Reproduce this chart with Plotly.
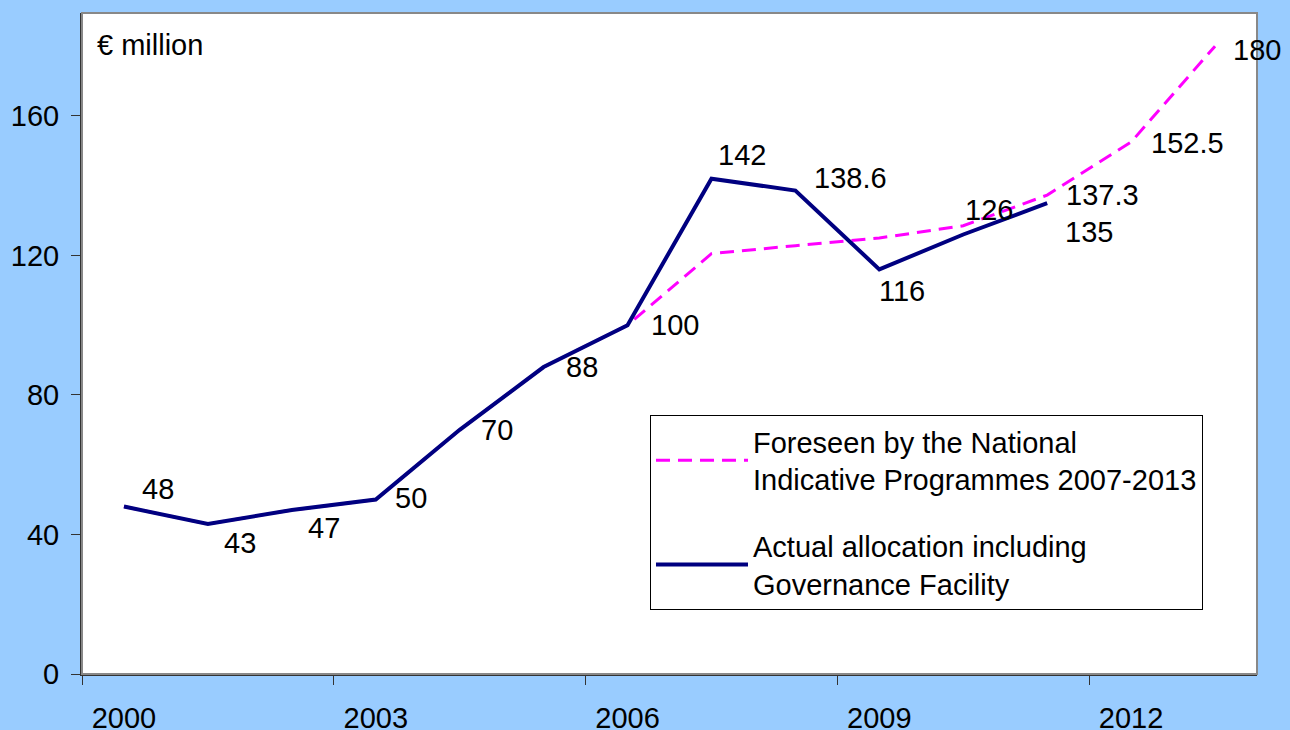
import plotly.graph_objects as go

# ---- data ----
years = [2000.5, 2001.5, 2002.5, 2003.5, 2004.5, 2005.5, 2006.5,
         2007.5, 2008.5, 2009.5, 2010.5, 2011.5, 2012.5, 2013.5]
foreseen = [48, 43, 47, 50, 70, 88, 100, 120.5, 122.8, 125, 128.5, 137.3, 152.5, 180]
actual_years = years[:12]
actual = [48, 43, 47, 50, 70, 88, 100, 142, 138.6, 116, 126, 135]

foreseen_name = "Foreseen by the National<br>Indicative Programmes 2007-2013"
actual_name = "Actual allocation including<br>Governance Facility"

x_tick_years = [2000, 2003, 2006, 2009, 2012]
y_ticks = [0, 40, 80, 120, 160]

# labelled points and pixel offsets (style only)
actual_label_offsets = [(34, -18), (32, 19), (32, 18), (35, -2), (37, 0), (38, 0), (47, 0),
                        (31, -24), (55, -13), (23, 22), (26, -25), (42, 29)]
foreseen_label_idx = [11, 12, 13]
foreseen_label_offsets = [(55, 0), (56, 1), (42, 4)]

FONT = "Liberation Sans, Arial, sans-serif"
FS = 29

fig = go.Figure()
fig.add_trace(go.Scatter(
    x=years, y=foreseen, mode="lines", name=foreseen_name, legendgroup="f",
    line=dict(color="#FF00FF", width=3, dash="14px,8px"),
))
fig.add_trace(go.Scatter(
    x=actual_years, y=actual, mode="lines", name=actual_name, legendgroup="a",
    line=dict(color="#000080", width=4),
))

def fmt(v):
    return f"{v:g}"

annotations = []
for (xv, yv), (dx, dy) in zip(zip(actual_years, actual), actual_label_offsets):
    annotations.append(dict(x=xv, y=yv, xref="x", yref="y", text=fmt(yv), showarrow=False,
                            xshift=dx, yshift=-dy, font=dict(size=FS, color="black", family=FONT)))
for i, (dx, dy) in zip(foreseen_label_idx, foreseen_label_offsets):
    annotations.append(dict(x=years[i], y=foreseen[i], xref="x", yref="y", text=fmt(foreseen[i]),
                            showarrow=False, xshift=dx, yshift=-dy,
                            font=dict(size=FS, color="black", family=FONT)))
annotations.append(dict(x=0.011, y=0.952, xref="paper", yref="paper", text="€ million",
                        showarrow=False, xanchor="left", yanchor="middle",
                        font=dict(size=FS, color="black", family=FONT)))

fig.update_layout(
    width=1290, height=730,
    margin=dict(l=82, r=33, t=13, b=56, autoexpand=False),
    paper_bgcolor="#99CCFF",
    plot_bgcolor="white",
    font=dict(family=FONT, size=FS, color="black"),
    annotations=annotations,
    showlegend=True,
    legend=dict(
        x=0.4834, y=0.3918, xanchor="left", yanchor="top",
        bgcolor="white", bordercolor="black", borderwidth=1,
        font=dict(size=29, family=FONT, color="black"),
        itemwidth=92, tracegroupgap=26,
    ),
    shapes=[dict(type="rect", xref="paper", yref="paper", x0=0, y0=0, x1=1, y1=1,
                 line=dict(color="#888888", width=2), layer="above")],
    xaxis=dict(
        range=[2000, 2014],
        # labels centred in the year period, tick marks at the year boundary
        tickvals=[y + 0.5 for y in x_tick_years], ticktext=[str(t) for t in x_tick_years],
        ticks="", ticklabelstandoff=17,
        minor=dict(tickvals=x_tick_years, ticks="outside", ticklen=9, tickcolor="#333333",
                   showgrid=False),
        showgrid=False, zeroline=False, showline=True, linecolor="#333333", linewidth=2,
        tickfont=dict(size=FS, family=FONT, color="black"), automargin=False,
    ),
    yaxis=dict(
        range=[0, 189.5], tickvals=y_ticks,
        showgrid=False, zeroline=False, showline=True, linecolor="#333333", linewidth=2,
        ticks="outside", ticklen=9, tickcolor="#333333", ticklabelstandoff=6,
        tickfont=dict(size=FS, family=FONT, color="black"), automargin=False,
    ),
)

fig.write_html("out.html", config={"displayModeBar": False},
               post_script="document.body.style.margin='0';document.body.style.padding='0';")
